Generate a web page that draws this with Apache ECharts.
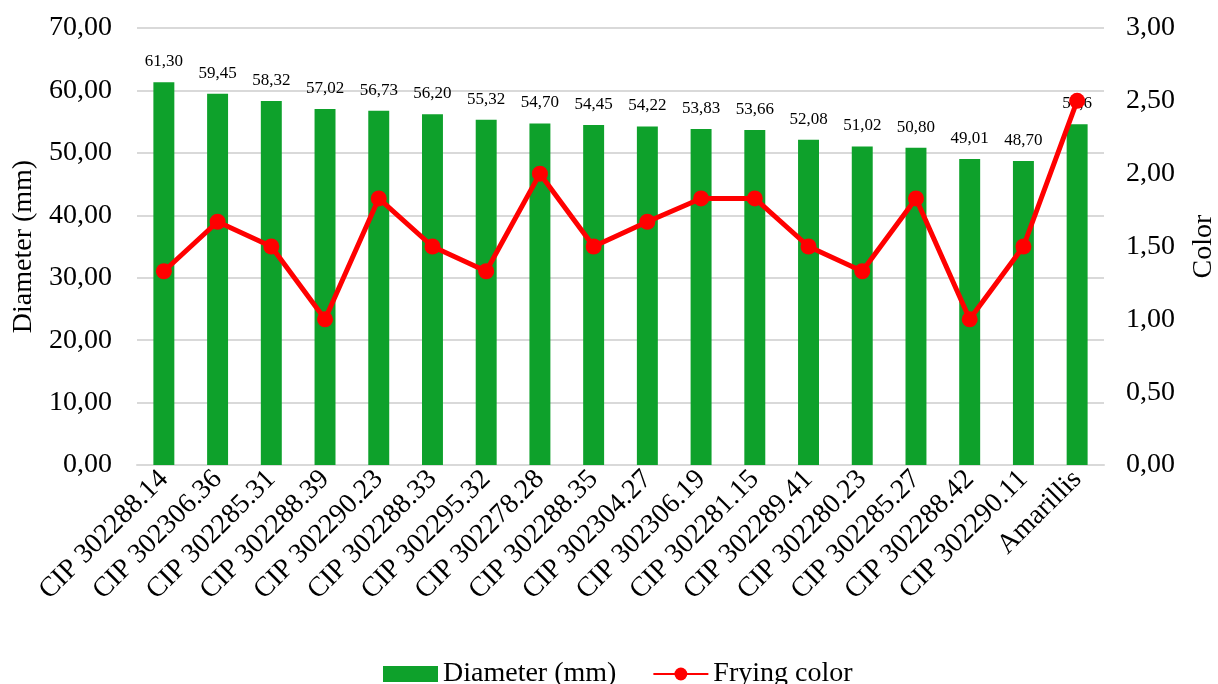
<!DOCTYPE html>
<html><head><meta charset="utf-8">
<script src="https://cdn.jsdelivr.net/npm/echarts@6/dist/echarts.min.js"></script>
<style>html,body{margin:0;padding:0;background:#fff;overflow:hidden}#c{width:100vw;height:100vh}</style>
</head><body><div id="c"></div>
<script>
var categories = ["CIP 302288.14","CIP 302306.36","CIP 302285.31","CIP 302288.39","CIP 302290.23","CIP 302288.33","CIP 302295.32","CIP 302278.28","CIP 302288.35","CIP 302304.27","CIP 302306.19","CIP 302281.15","CIP 302289.41","CIP 302280.23","CIP 302285.27","CIP 302288.42","CIP 302290.11","Amarillis"];
var diameter = [61.30,59.45,58.32,57.02,56.73,56.20,55.32,54.70,54.45,54.22,53.83,53.66,52.08,51.02,50.80,49.01,48.70,54.6];
var diameterLabels = ["61,30","59,45","58,32","57,02","56,73","56,20","55,32","54,70","54,45","54,22","53,83","53,66","52,08","51,02","50,80","49,01","48,70","54,6"];
var fryingColor = [1.33,1.67,1.50,1.00,1.83,1.50,1.33,2.00,1.50,1.67,1.83,1.83,1.50,1.33,1.83,1.00,1.50,2.50];
var leftTicks = {min:0,max:70,interval:10};
var rightTicks = {min:0,max:3,interval:0.5};

var font = "'Liberation Serif','Times New Roman',serif";
var fmt = function(v){return v.toFixed(2).replace('.',',');};
var chart = echarts.init(document.getElementById('c'));
chart.setOption({
  animation:false,
  textStyle:{fontFamily:font,color:'#000'},
  grid:{left:137,right:114,top:28,bottom:219,containLabel:false,outerBoundsMode:'none'},
  legend:{
    top:655,left:378,itemWidth:55,itemHeight:16,itemGap:36,
    textStyle:{fontFamily:font,fontSize:28,color:'#000'},
    data:[{name:'Diameter (mm)',icon:'rect'},{name:'Frying color'}]
  },
  xAxis:{
    type:'category',data:categories,
    axisLine:{show:true,lineStyle:{color:'#d9d9d9',width:2}},
    axisTick:{show:false},
    axisLabel:{rotate:45,interval:0,fontFamily:font,fontSize:28,color:'#000',margin:10}
  },
  yAxis:[{
    type:'value',min:leftTicks.min,max:leftTicks.max,interval:leftTicks.interval,
    name:'Diameter (mm)',nameLocation:'middle',nameGap:90,nameRotate:90,
    nameTextStyle:{fontFamily:font,fontSize:28,color:'#000'},
    axisLine:{show:false},axisTick:{show:false},
    axisLabel:{formatter:fmt,fontFamily:font,fontSize:28,color:'#000',margin:25},
    splitLine:{lineStyle:{color:'#d9d9d9',width:2}}
  },{
    type:'value',min:rightTicks.min,max:rightTicks.max,interval:rightTicks.interval,
    name:'Color',nameLocation:'middle',nameGap:86,nameRotate:90,
    nameTextStyle:{fontFamily:font,fontSize:28,color:'#000'},
    axisLine:{show:false},axisTick:{show:false},
    axisLabel:{formatter:fmt,fontFamily:font,fontSize:28,color:'#000',margin:22},
    splitLine:{show:false}
  }],
  series:[{
    name:'Diameter (mm)',type:'bar',data:diameter,barWidth:'39%',
    itemStyle:{color:'#0EA12B'},
    label:{show:true,position:'top',distance:12,fontFamily:font,fontSize:17,color:'#000',
      formatter:function(p){return diameterLabels[p.dataIndex];}}
  },{
    name:'Frying color',type:'line',yAxisIndex:1,data:fryingColor,
    symbol:'circle',symbolSize:16,
    lineStyle:{color:'#FF0000',width:5},
    itemStyle:{color:'#FF0000'}
  }]
});
</script></body></html>
